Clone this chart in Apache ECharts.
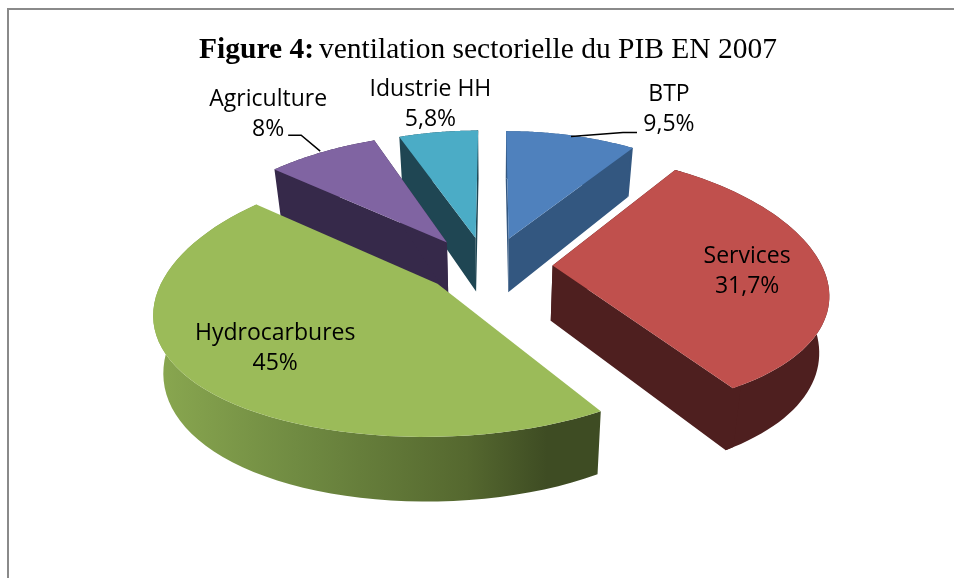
<!DOCTYPE html>
<html>
<head>
<meta charset="utf-8">
<style>
html,body{margin:0;padding:0;background:#fff;}
#pie3d{width:954px;height:578px;}
</style>
<script src="https://cdn.jsdelivr.net/npm/echarts@6/dist/echarts.min.js"></script>
</head>
<body>
<div id="pie3d"></div>
<script>
var categories = ['BTP', 'Services', 'Hydrocarbures', 'Agriculture', 'Idustrie HH'];
var values = [9.5, 31.7, 45, 8, 5.8];
var valueLabels = ['9,5%', '31,7%', '45%', '8%', '5,8%'];

var topColors = ['#4f81bd', '#c0504d', '#9bbb59', '#8064a2', '#4bacc6'];
var sideColors = ['#335780', '#4e1f1f', null, '#36294a', '#1f4653'];

// label offset from the middle of each slice's outer arc
var labelOffsets = [[98, -26], [-76, 3], [86, -30], [-54, -38], [-8, -28]];
// leader lines, same reference point (null = none)
var leaders = [[[0, 1], [52, -3], [66, -3]], null, null, [[-2, -1], [-21, -17], [-34, -17]], null];

var cx = 492, cy = 265;   // centre before explosion
var radX = 269, radY = 128, perspX = 0.19, perspY = 0.13;
var explodeX = [0.22, 0.225, 0.26, 0.30, 0.35], explodeY = 0.22;
var depth = 55, shrink = 0.97;

var total = 0;
for (var t = 0; t < values.length; t++) total += values[t];

function topPoint(u, v) {
    return [cx + radX * u / (1 - perspX * v), cy + radY * v / (1 - perspY * v)];
}
function bottomPoint(u, v) {
    var p = topPoint(u, v);
    return [cx + (p[0] - cx) * shrink, p[1] + depth / (1 - perspY * v)];
}
// angle in radians, clockwise from 12 o'clock
function sliceFrame(idx) {
    var before = 0;
    for (var i = 0; i < idx; i++) before += values[i];
    var a0 = before / total * Math.PI * 2;
    var a1 = (before + values[idx]) / total * Math.PI * 2;
    var mid = (a0 + a1) / 2;
    return {a0: a0, a1: a1, mid: mid, ou: explodeX[idx] * Math.sin(mid), ov: -explodeY * Math.cos(mid)};
}
function arc(f, fn) {
    var pts = [];
    var n = 60;
    for (var k = 0; k <= n; k++) {
        var a = f.a0 + (f.a1 - f.a0) * k / n;
        pts.push(fn(f.ou + Math.sin(a), f.ov - Math.cos(a)));
    }
    return pts;
}

function renderSlice(params, api) {
    var idx = api.value(0);
    var f = sliceFrame(idx);
    var topArc = arc(f, topPoint);
    var botArc = arc(f, bottomPoint);
    var apexT = topPoint(f.ou, f.ov), apexB = bottomPoint(f.ou, f.ov);
    var flat = sideColors[idx] || '#3e4c23';
    var side = sideColors[idx];
    if (!side) {
        side = new echarts.graphic.LinearGradient(0, 0, 1, 0, [
            {offset: 0, color: '#8aa850'},
            {offset: 0.32, color: '#708b42'},
            {offset: 0.7, color: '#55682f'},
            {offset: 0.88, color: '#3e4c23'},
            {offset: 1, color: '#3e4c23'}
        ]);
    }
    var order = -Math.cos(f.mid) * 10 + 20;
    var kids = [];
    // outer wall, then radial walls (they overlap it by one arc step to hide the seam), then the top face
    kids.push({type: 'polygon', z2: order, shape: {points: topArc.concat(botArc.slice().reverse())}, style: {fill: side}});
    if (sideColors[idx]) {
        kids.push({type: 'polygon', z2: order + 0.1, shape: {points: [apexT, topArc[0], topArc[1], botArc[1], botArc[0], apexB]}, style: {fill: flat}});
        kids.push({type: 'polygon', z2: order + 0.1, shape: {points: [apexT, topArc[60], topArc[59], botArc[59], botArc[60], apexB]}, style: {fill: flat}});
    }
    kids.push({type: 'polygon', z2: order + 0.2, shape: {points: [apexT].concat(topArc)}, style: {fill: topColors[idx]}});

    var anchor = topPoint(f.ou + Math.sin(f.mid), f.ov - Math.cos(f.mid));
    var off = labelOffsets[idx];
    kids.push({
        type: 'text', z2: 100,
        style: {
            x: anchor[0] + off[0], y: anchor[1] + off[1],
            text: categories[idx] + '\n' + valueLabels[idx],
            fill: '#000', font: '23px "Open Sans"', lineHeight: 30,
            align: 'center', verticalAlign: 'middle'
        }
    });
    if (leaders[idx]) {
        var line = [];
        for (var j = 0; j < leaders[idx].length; j++) {
            line.push([anchor[0] + leaders[idx][j][0], anchor[1] + leaders[idx][j][1]]);
        }
        kids.push({type: 'polyline', z2: 99, shape: {points: line}, style: {stroke: '#000', lineWidth: 1.5, fill: null}});
    }
    return {type: 'group', children: kids};
}

var seriesData = [];
for (var d = 0; d < categories.length; d++) seriesData.push([d, values[d]]);

var myChart = echarts.init(document.getElementById('pie3d'));
var option = {
    animation: false,
    backgroundColor: '#fff',
    title: {
        left: 483, top: 30, textAlign: 'center',
        text: '{b|Figure 4:} {r|ventilation sectorielle du PIB EN 2007}',
        textStyle: {
            fontWeight: 'normal',
            rich: {
                b: {fontFamily: 'Liberation Serif', fontWeight: 'bold', fontSize: 29.5, color: '#000'},
                r: {fontFamily: 'Liberation Serif', fontWeight: 'normal', fontSize: 29.5, color: '#000'}
            }
        }
    },
    graphic: [{
        type: 'polyline', silent: true,
        shape: {points: [[8, 578], [8, 9], [954, 9]]},
        style: {stroke: '#8a8a8a', lineWidth: 2, fill: null}
    }],
    series: [{
        type: 'custom',
        coordinateSystem: 'none',
        renderItem: renderSlice,
        data: seriesData,
        silent: true
    }]
};
myChart.setOption(option);
</script>
</body>
</html>
